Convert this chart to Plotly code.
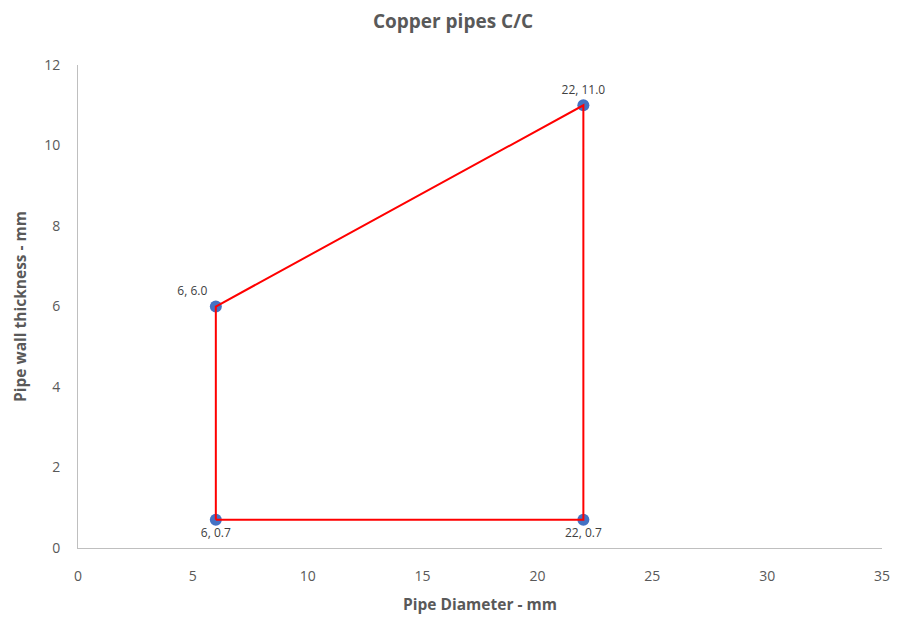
import plotly.graph_objects as go

diameter = [6, 6, 22, 22]
thickness = [0.7, 6.0, 11.0, 0.7]
point_labels = ["6, 0.7", "6, 6.0", "22, 11.0", "22, 0.7"]
label_pos = ["bottom center", "top left", "top center", "bottom center"]

# closed outline order
outline_x = [6, 6, 22, 22, 6]
outline_y = [0.7, 6.0, 11.0, 0.7, 0.7]

font_family = "Open Sans, Liberation Sans, sans-serif"
grey = "#595959"

fig = go.Figure()
fig.add_trace(go.Scatter(
    x=diameter, y=thickness, mode="markers+text",
    text=point_labels, textposition=label_pos,
    textfont=dict(size=12, color="#404040", family=font_family),
    marker=dict(size=12, color="#4472C4"),
    showlegend=False, hoverinfo="skip",
))
fig.add_trace(go.Scatter(
    x=outline_x, y=outline_y, mode="lines",
    line=dict(color="#FF0000", width=2),
    showlegend=False,
))

fig.update_layout(
    width=890, height=616,
    paper_bgcolor="white", plot_bgcolor="white",
    margin=dict(l=70, r=16, t=57, b=76, autoexpand=False),
    title=dict(text="<b>Copper pipes C/C</b>", x=0.5, xanchor="center", y=0.979, yanchor="middle",
               font=dict(size=19, color=grey, family=font_family)),
    font=dict(family=font_family, color=grey),
)
fig.update_xaxes(
    range=[0, 35], tickvals=[0, 5, 10, 15, 20, 25, 30, 35],
    showgrid=False, zeroline=False, showline=True, linecolor="#BFBFBF", linewidth=1,
    ticks="outside", ticklen=15, tickcolor="rgba(0,0,0,0)", automargin=False,
    tickfont=dict(size=14, color=grey),
    title=dict(text="<b>Pipe Diameter - mm</b>", font=dict(size=15.5, color=grey), standoff=15),
)
fig.update_yaxes(
    range=[0, 12], tickvals=[0, 2, 4, 6, 8, 10, 12],
    showgrid=False, zeroline=False, showline=True, linecolor="#BFBFBF", linewidth=1,
    ticks="outside", ticklen=14, tickcolor="rgba(0,0,0,0)", automargin=False,
    tickfont=dict(size=14, color=grey),
    title=dict(text="<b>Pipe wall thickness - mm</b>", font=dict(size=15.5, color=grey), standoff=13),
)

fig.write_html("out.html")
